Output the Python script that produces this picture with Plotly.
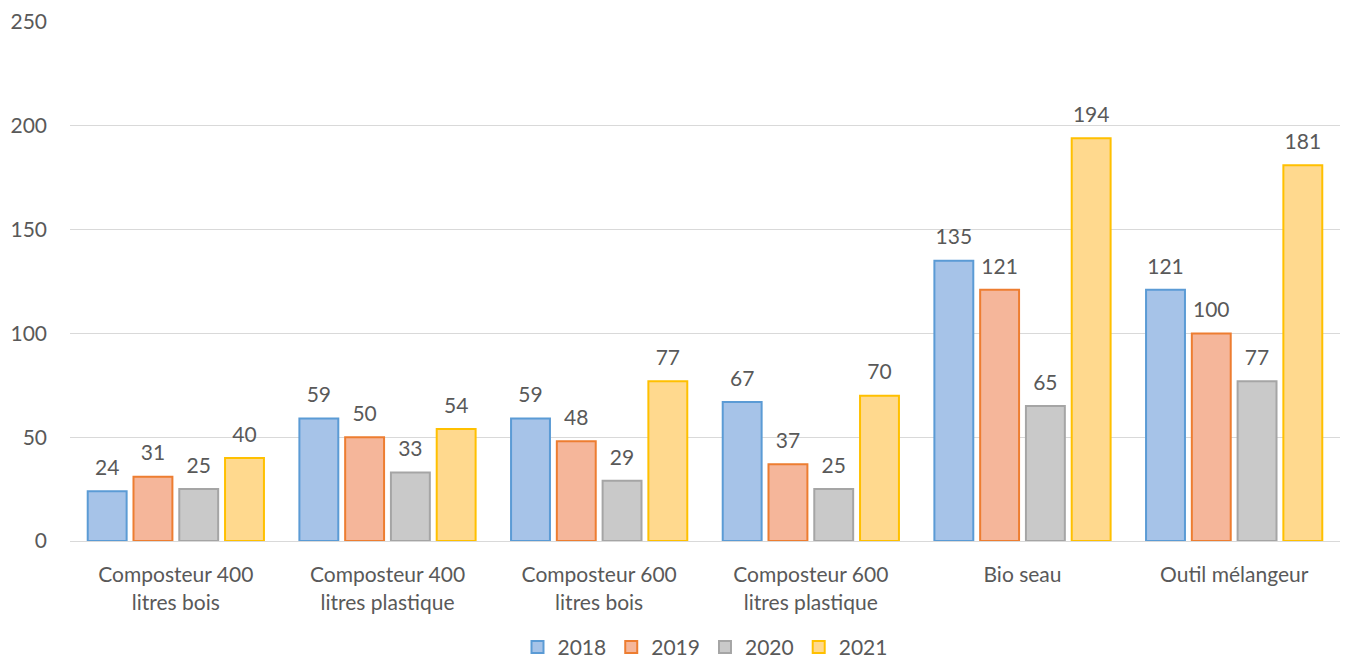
import plotly.graph_objects as go

categories = ["Composteur 400<br>litres bois", "Composteur 400<br>litres plastique",
              "Composteur 600<br>litres bois", "Composteur 600<br>litres plastique",
              "Bio seau", "Outil mélangeur"]
years = ["2018", "2019", "2020", "2021"]
v2018 = [24, 59, 59, 67, 135, 121]
v2019 = [31, 50, 48, 37, 121, 100]
v2020 = [25, 33, 29, 25, 65, 77]
v2021 = [40, 54, 77, 70, 194, 181]
series = [v2018, v2019, v2020, v2021]

fills = ["#A6C3E8", "#F5B69A", "#C9C9C9", "#FFD98E"]
lines = ["#5B9BD5", "#ED7D31", "#A5A5A5", "#FFC000"]

font_family = "Lato, 'Open Sans', sans-serif"
txt = "#595959"

fig = go.Figure()
for i, (name, vals, fc, lc) in enumerate(zip(years, series, fills, lines)):
    fig.add_trace(go.Bar(
        x=categories, y=vals, name=name, offsetgroup=str(i),
        marker=dict(color=fc, line=dict(color=lc, width=2)),
        cliponaxis=False,
    ))
for i, vals in enumerate(series):
    fig.add_trace(go.Scatter(
        x=categories, y=vals, offsetgroup=str(i), mode="markers+text",
        marker=dict(size=16, opacity=0),
        text=[str(v) for v in vals], textposition="top center",
        textfont=dict(size=21, color=txt, family=font_family),
        showlegend=False, hoverinfo="skip", cliponaxis=False,
    ))

fig.update_layout(
    width=1348, height=664,
    margin=dict(l=62, r=16, t=14, b=131, autoexpand=False),
    paper_bgcolor="white", plot_bgcolor="white",
    barmode="group", bargap=0.135, bargroupgap=0.15,
    scattermode="group", scattergap=0.135,
    font=dict(family=font_family, size=21, color=txt),
    showlegend=True,
    legend=dict(orientation="h", x=0.5, xanchor="center", y=-0.205, yanchor="middle",
                font=dict(size=21, color=txt), traceorder="normal"),
    yaxis=dict(range=[0, 250], dtick=50, showgrid=True, gridcolor="#D9D9D9", gridwidth=1,
               zeroline=False, showline=False, ticks="", ticklabelstandoff=22,
               automargin=False, tickfont=dict(size=21, color=txt)),
    xaxis=dict(showline=True, linecolor="#D9D9D9", linewidth=1, ticks="",
               automargin=False, ticklabelstandoff=15,
               tickfont=dict(size=21, color=txt)),
)

fig.write_html("out.html")
